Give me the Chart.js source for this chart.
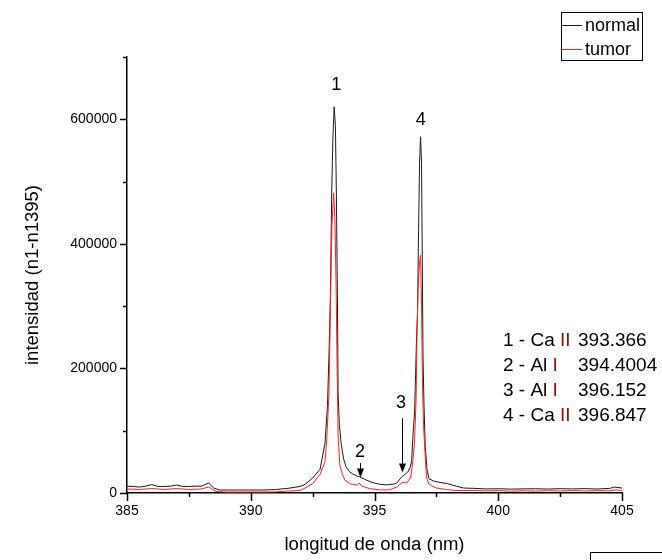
<!DOCTYPE html>
<html>
<head>
<meta charset="utf-8">
<script src="https://cdn.jsdelivr.net/npm/chart.js@4/dist/chart.umd.min.js"></script>
<style>
  html, body { margin: 0; padding: 0; background: #fff; }
  #wrap { position: relative; width: 662px; height: 560px; }
</style>
</head>
<body>
<div id="wrap"><canvas id="Chart" width="662" height="560"></canvas></div>
<script>
// normal (black) spectrum
const normalX = [385.0, 385.25, 385.5, 385.75, 386.0, 386.25, 386.5, 386.75, 387.0, 387.25, 387.5, 387.75, 388.0, 388.3, 388.5, 388.75,
  389.0, 389.5, 390.0, 390.5, 391.0, 391.5, 392.0, 392.2, 392.5, 392.8, 393.0, 393.1, 393.16, 393.22, 393.27, 393.32, 393.37,
  393.42, 393.46, 393.5, 393.53, 393.58, 393.65, 393.75, 393.85, 394.0, 394.1, 394.3, 394.4, 394.6, 394.9, 395.2, 395.5, 395.8,
  395.9, 396.1, 396.2, 396.35, 396.45, 396.5, 396.56, 396.62, 396.66, 396.7, 396.74, 396.78, 396.82, 396.86, 396.9, 396.93,
  396.96, 397.0, 397.05, 397.12, 397.2, 397.4, 397.65, 397.95, 398.3, 398.6, 399.0, 399.5, 400.0, 400.5, 401.0, 401.5, 402.0,
  402.5, 403.0, 403.5, 404.0, 404.5, 404.7, 405.0];
const normalY = [11000, 10500, 9600, 11000, 13500, 10500, 10500, 11000, 12800, 10500, 10500, 11000, 11000, 16000, 8000, 4800,
  4800, 4800, 4800, 4800, 5600, 7500, 10500, 14000, 24000, 38000, 80000, 140000, 220000, 320000, 480000, 570000, 620000,
  590000, 480000, 320000, 160000, 110000, 80000, 55000, 42000, 34000, 31000, 27000, 26000, 22000, 17000, 14000, 13000, 14500,
  16000, 26000, 29000, 34000, 42000, 52000, 96000, 130000, 190000, 250000, 290000, 420000, 530000, 572000, 530000, 380000,
  220000, 140000, 75000, 38000, 23000, 19000, 17000, 15000, 11000, 8000, 7500, 6500, 6800, 6200, 6600, 6800, 6300,
  6900, 6500, 7000, 6400, 7400, 9500, 8000];

// tumor (red) spectrum
const tumorX = [385.0, 385.5, 386.0, 386.5, 387.0, 387.5, 388.0, 388.3, 388.6, 389.0, 389.5, 390.0, 390.5, 391.0, 391.5,
  392.0, 392.2, 392.5, 392.8, 393.0, 393.07, 393.16, 393.22, 393.28, 393.35, 393.4, 393.45, 393.49, 393.53, 393.6, 393.7,
  393.8, 394.0, 394.1, 394.3, 394.38, 394.5, 394.8, 395.2, 395.6, 395.9, 396.15, 396.3, 396.47, 396.56, 396.62, 396.68,
  396.72, 396.76, 396.82, 396.86, 396.9, 396.94, 396.98, 397.04, 397.1, 397.2, 397.5, 397.9, 398.3, 399.0, 399.5, 400.0,
  400.5, 401.0, 401.5, 402.0, 402.5, 403.0, 403.5, 404.0, 404.5, 404.7, 405.0];
const tumorY = [6400, 5600, 7200, 5600, 7200, 5600, 6400, 9600, 2400, 1600, 1600, 1600, 1600, 1800, 3200,
  4000, 8000, 15000, 30000, 50000, 85000, 160000, 300000, 430000, 482000, 440000, 330000, 200000, 90000, 45000, 30000,
  21000, 15000, 14000, 12500, 16000, 11000, 7000, 5000, 5000, 9600, 17700, 16000, 25700, 55000, 85000, 150000,
  260000, 330000, 370000, 382000, 300000, 170000, 110000, 65000, 25000, 14000, 8000, 5500, 4000, 4000, 3500, 3800,
  3000, 3600, 3200, 3700, 3300, 3900, 3400, 3800, 3600, 5000, 4200];

// peak markers: number label position and arrow (from, to) in data units
const peakIds = ['1', '2', '3', '4'];
const peakLabelX = [393.45, 394.41, 396.07, 396.87];
const peakLabelY = [655000, 66000, 145000, 599000];
const arrowX = [null, 394.41, 396.11, null];
const arrowFrom = [null, 48000, 120000, null];
const arrowTo = [null, 25000, 33000, null];

// line identification table
const lineElements = ['Ca', 'Al', 'Al', 'Ca'];
const lineIons = ['II', 'I', 'I', 'II'];
const lineNm = ['393.366', '394.4004', '396.152', '396.847'];

const fontFamily = "'Liberation Sans', Arial, sans-serif";

function points(xs, ys) {
  return xs.map((x, i) => ({ x: x, y: ys[i] }));
}

const decorPlugin = {
  id: 'decor',
  afterDraw(chart) {
    const ctx = chart.ctx;
    const xs = chart.scales.x;
    const ys = chart.scales.y;
    const area = chart.chartArea;
    ctx.save();
    ctx.strokeStyle = '#000';
    ctx.lineWidth = 1.5;

    // y ticks: major every 200000, minor in between
    ctx.beginPath();
    for (let v = 0; v <= 700000; v += 100000) {
      const py = Math.round(ys.getPixelForValue(v)) + 0.5;
      const len = (v % 200000 === 0) ? 7 : 4;
      ctx.moveTo(area.left, py);
      ctx.lineTo(area.left - len, py);
    }
    // x ticks: major every 5, minor every 2.5
    for (let v = 385; v <= 405; v += 2.5) {
      const px = Math.round(xs.getPixelForValue(v)) + 0.5;
      const len = (v % 5 === 0) ? 8 : 4;
      ctx.moveTo(px, area.bottom);
      ctx.lineTo(px, area.bottom + len);
    }
    ctx.stroke();

    // peak numbers and arrows
    ctx.fillStyle = '#000';
    ctx.font = '18px ' + fontFamily;
    ctx.textAlign = 'center';
    ctx.textBaseline = 'middle';
    ctx.lineWidth = 1;
    peakIds.forEach((id, i) => {
      ctx.fillText(id, xs.getPixelForValue(peakLabelX[i]), ys.getPixelForValue(peakLabelY[i]));
      if (arrowX[i] !== null) {
        const ax = Math.round(xs.getPixelForValue(arrowX[i])) + 0.5;
        const y0 = ys.getPixelForValue(arrowFrom[i]);
        const y1 = ys.getPixelForValue(arrowTo[i]);
        ctx.beginPath();
        ctx.moveTo(ax, y0);
        ctx.lineTo(ax, y1 - 6);
        ctx.stroke();
        ctx.beginPath();
        ctx.moveTo(ax, y1);
        ctx.lineTo(ax - 3.5, y1 - 9);
        ctx.lineTo(ax + 3.5, y1 - 9);
        ctx.closePath();
        ctx.fill();
      }
    });

    // line identification table
    ctx.textAlign = 'left';
    ctx.font = '19px ' + fontFamily;
    lineElements.forEach((el, i) => {
      const ty = 341 + i * 25;
      const head = peakIds[i] + ' - ' + el + ' ';
      ctx.fillStyle = '#000';
      ctx.fillText(head, 503, ty);
      const w = ctx.measureText(head).width;
      ctx.fillStyle = '#8b1010';
      ctx.fillText(lineIons[i], 503 + w, ty);
      ctx.fillStyle = '#000';
      ctx.fillText(lineNm[i], 578, ty);
    });

    // legend box
    ctx.font = '18px ' + fontFamily;
    ctx.lineWidth = 1;
    ctx.strokeStyle = '#000';
    ctx.strokeRect(561.5, 12.5, 81, 48);
    chart.data.datasets.forEach((ds, i) => {
      const ly = 25 + i * 24;
      ctx.strokeStyle = ds.borderColor;
      ctx.beginPath();
      ctx.moveTo(562, ly + 0.5);
      ctx.lineTo(582, ly + 0.5);
      ctx.stroke();
      ctx.fillStyle = '#000';
      ctx.fillText(ds.label, 585, ly + 1);
    });

    // clipped text box at bottom right
    ctx.strokeStyle = '#000';
    ctx.beginPath();
    ctx.moveTo(590.5, 560);
    ctx.lineTo(590.5, 552.5);
    ctx.lineTo(662, 552.5);
    ctx.stroke();
    ctx.restore();
  }
};

const config = {
  type: 'scatter',
  data: {
    datasets: [{
      label: 'normal',
      data: points(normalX, normalY),
      borderColor: '#1a1a1a',
      borderWidth: 1,
      showLine: true,
      pointRadius: 0,
      tension: 0,
      order: 1
    },
    {
      label: 'tumor',
      data: points(tumorX, tumorY),
      borderColor: '#ff2020',
      borderWidth: 1,
      showLine: true,
      pointRadius: 0,
      tension: 0,
      order: 0
    }]
  },
  options: {
    responsive: false,
    animation: false,
    events: [],
    layout: { padding: { left: 0, right: 40, top: 57, bottom: 0 } },
    plugins: {
      legend: { display: false },
      tooltip: { enabled: false }
    },
    scales: {
      x: {
        type: 'linear',
        min: 385,
        max: 405,
        afterFit(s) { s.height = 67; },
        grid: { display: false, drawTicks: false },
        border: { display: true, color: '#000', width: 1.5 },
        ticks: {
          stepSize: 2.5,
          padding: 10,
          color: '#000',
          font: { family: fontFamily, size: 14 },
          maxRotation: 0,
          callback: v => (v % 5 === 0 ? String(v) : '')
        },
        title: {
          display: true,
          text: 'longitud de onda (nm)',
          color: '#000',
          font: { family: fontFamily, size: 18.5 },
          padding: { top: 0, bottom: 4 }
        }
      },
      y: {
        min: 0,
        max: 700000,
        afterFit(s) { s.width = 127; },
        grid: { display: false, drawTicks: false },
        border: { display: true, color: '#000', width: 1.5 },
        ticks: {
          stepSize: 100000,
          padding: 10,
          color: '#000',
          font: { family: fontFamily, size: 14 },
          callback: v => (v % 200000 === 0 ? String(v) : '')
        },
        title: {
          display: true,
          text: 'intensidad (n1-n1395)',
          color: '#000',
          font: { family: fontFamily, size: 18.5 },
          padding: { top: 22, bottom: 0 }
        }
      }
    }
  },
  plugins: [decorPlugin]
};

const spChart = new Chart(document.getElementById('Chart'), config);
</script>
</body>
</html>
